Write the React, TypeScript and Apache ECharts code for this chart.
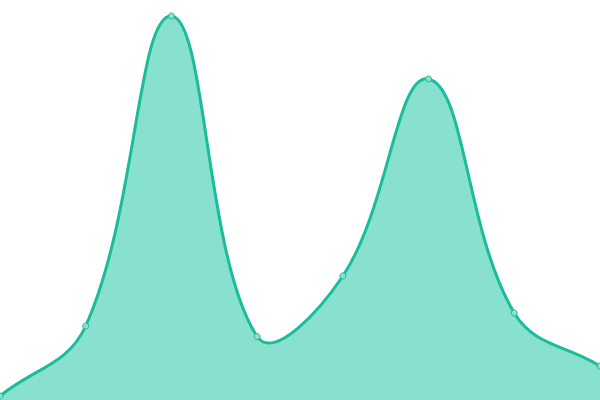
import React, { useEffect, useRef } from "react";
import * as echarts from "echarts";

const categories = ["A", "B", "C", "D", "E", "F", "G", "H"];
const values = [4, 74, 384, 63.5, 124, 321, 87, 34];

const TENSION = 0.4;

function buildPath(pts: number[][], baseY: number) {
  const n = pts.length;
  const cps: { prev: number[]; next: number[] }[] = [];
  for (let i = 0; i < n; i++) {
    const p = pts[i];
    const pPrev = pts[i - 1] || p;
    const pNext = pts[i + 1] || p;
    const d01 = Math.hypot(p[0] - pPrev[0], p[1] - pPrev[1]);
    const d12 = Math.hypot(pNext[0] - p[0], pNext[1] - p[1]);
    const s01 = d01 / (d01 + d12 || 1);
    const s12 = d12 / (d01 + d12 || 1);
    const fa = TENSION * s01;
    const fb = TENSION * s12;
    cps.push({
      prev: [p[0] - fa * (pNext[0] - pPrev[0]), p[1] - fa * (pNext[1] - pPrev[1])],
      next: [p[0] + fb * (pNext[0] - pPrev[0]), p[1] + fb * (pNext[1] - pPrev[1])],
    });
  }
  let d = `M${pts[0][0]},${pts[0][1]}`;
  for (let i = 1; i < n; i++) {
    const a = cps[i - 1].next;
    const b = cps[i].prev;
    d += ` C${a[0]},${a[1]} ${b[0]},${b[1]} ${pts[i][0]},${pts[i][1]}`;
  }
  const area = d + ` L${pts[n - 1][0]},${baseY} L${pts[0][0]},${baseY} Z`;
  return { line: d, area };
}

export default function App() {
  const ref = useRef<HTMLDivElement>(null);
  useEffect(() => {
    document.body.style.margin = "0";
    const chart = echarts.init(ref.current!, undefined, { renderer: "svg" });
    chart.setOption({
      animation: false,
      grid: { left: 0, right: 0, top: 0, bottom: 0 },
      xAxis: {
        type: "category",
        data: categories,
        boundaryGap: false,
        show: false,
      },
      yAxis: { type: "value", min: 0, max: 400, show: false },
      series: [
        {
          type: "custom",
          data: values,
          z: 1,
          renderItem: (params: any, api: any) => {
            if (params.dataIndex !== 0) return null;
            const pts = values.map((v, i) => api.coord([i, v]));
            const baseY = api.coord([0, 0])[1];
            const { line, area } = buildPath(pts, baseY);
            return {
              type: "group",
              children: [
                {
                  type: "path",
                  shape: { pathData: area },
                  style: { fill: "#88e0cf", stroke: null },
                },
                {
                  type: "path",
                  shape: { pathData: line },
                  style: { fill: null, stroke: "#1abc9c", lineWidth: 3 },
                },
              ],
            };
          },
        },
        {
          type: "scatter",
          data: values,
          z: 3,
          symbol: "circle",
          symbolSize: 6,
          itemStyle: { color: "#8ae0cf", borderColor: "#1abc9c", borderWidth: 1, opacity: 1 },
        },
      ],
    });
    return () => chart.dispose();
  }, []);
  return <div ref={ref} style={{ width: 600, height: 400 }} />;
}
